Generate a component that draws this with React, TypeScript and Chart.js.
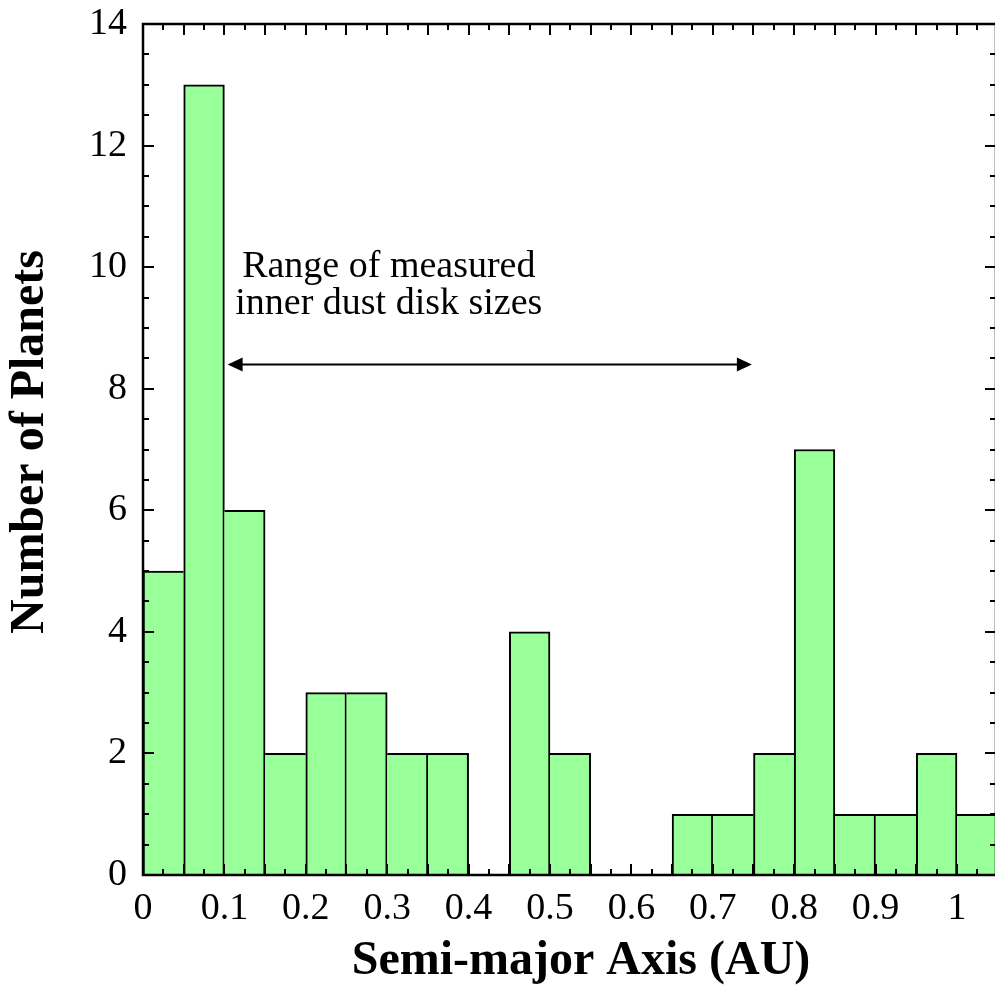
import React, { useEffect, useRef } from "react";
import { Chart, registerables } from "chart.js";

Chart.register(...registerables);

// ---- data ----
const binCenters = [
  0.025, 0.075, 0.125, 0.175, 0.225, 0.275, 0.325, 0.375, 0.425, 0.475, 0.525,
  0.575, 0.625, 0.675, 0.725, 0.775, 0.825, 0.875, 0.925, 0.975, 1.025,
];
const planetCounts = [5, 13, 6, 2, 3, 3, 2, 2, 0, 4, 2, 0, 0, 1, 1, 2, 7, 1, 1, 2, 1];
const xTickValues = [0, 0.1, 0.2, 0.3, 0.4, 0.5, 0.6, 0.7, 0.8, 0.9, 1];
const xTickLabels = ["0", "0.1", "0.2", "0.3", "0.4", "0.5", "0.6", "0.7", "0.8", "0.9", "1"];
const yTickValues = [0, 2, 4, 6, 8, 10, 12, 14];
const xTitle = "Semi-major Axis (AU)";
const yTitle = "Number of Planets";
const noteLines = ["Range of measured", "inner dust disk sizes"];
const noteX = 0.302;
const noteYs = [10.0, 9.4];
const arrowFrom = 0.104;
const arrowTo = 0.748;
const arrowY = 8.4;

const X_MIN = 0;
const X_MAX = 1.0467;
const Y_MIN = 0;
const Y_MAX = 14;
const X_MAJOR_STEP = 0.05;
const X_MINOR_STEP = 0.025;
const Y_MAJOR_STEP = 2;
const Y_MINOR_STEP = 0.5;

const SERIF = '"Liberation Serif", "Times New Roman", Times, serif';

function stepValues(min: number, max: number, step: number) {
  const out: number[] = [];
  const n = Math.floor((max - min) / step + 1e-6);
  for (let i = 0; i <= n; i++) out.push(min + i * step);
  return out;
}

const framePlugin = {
  id: "framePlugin",
  afterDatasetsDraw(chart: any) {
    const { ctx, chartArea, scales } = chart;
    const xs = scales.x;
    const ys = scales.y;
    const L = chartArea.left;
    const R = chartArea.right + 1;
    const T = chartArea.top;
    const B = chartArea.bottom;
    ctx.save();
    ctx.strokeStyle = "#000";
    ctx.fillStyle = "#000";
    ctx.lineCap = "butt";

    // ticks
    ctx.lineWidth = 2;
    const yMajor = stepValues(Y_MIN, Y_MAX, Y_MAJOR_STEP);
    stepValues(Y_MIN, Y_MAX, Y_MINOR_STEP).forEach((v) => {
      const isMajor = yMajor.some((m) => Math.abs(m - v) < 1e-6);
      const len = isMajor ? 11 : 6;
      const y = Math.round(ys.getPixelForValue(v));
      ctx.beginPath();
      ctx.moveTo(L, y);
      ctx.lineTo(L + len, y);
      ctx.moveTo(R, y);
      ctx.lineTo(R - len, y);
      ctx.stroke();
    });
    const xMajor = stepValues(X_MIN, X_MAX, X_MAJOR_STEP);
    stepValues(X_MIN, X_MAX, X_MINOR_STEP).forEach((v) => {
      const isMajor = xMajor.some((m) => Math.abs(m - v) < 1e-6);
      const len = isMajor ? 11 : 6;
      const x = Math.round(xs.getPixelForValue(v));
      ctx.beginPath();
      ctx.moveTo(x, B);
      ctx.lineTo(x, B - len);
      ctx.moveTo(x, T);
      ctx.lineTo(x, T + len);
      ctx.stroke();
    });

    // frame
    ctx.lineWidth = 2.5;
    ctx.beginPath();
    ctx.moveTo(L, T);
    ctx.lineTo(R, T);
    ctx.moveTo(L, T - 1.25);
    ctx.lineTo(L, B + 1.25);
    ctx.moveTo(L, B);
    ctx.lineTo(R, B);
    ctx.moveTo(R, T);
    ctx.lineTo(R, B);
    ctx.stroke();

    // annotation text
    ctx.font = `38px ${SERIF}`;
    ctx.textAlign = "center";
    ctx.textBaseline = "middle";
    noteLines.forEach((line, i) => {
      ctx.fillText(line, xs.getPixelForValue(noteX), ys.getPixelForValue(noteYs[i]));
    });

    // double arrow
    const ax1 = xs.getPixelForValue(arrowFrom);
    const ax2 = xs.getPixelForValue(arrowTo);
    const ay = ys.getPixelForValue(arrowY);
    const head = 15;
    const hw = 7;
    ctx.lineWidth = 2;
    ctx.beginPath();
    ctx.moveTo(ax1 + head - 2, ay);
    ctx.lineTo(ax2 - head + 2, ay);
    ctx.stroke();
    ctx.beginPath();
    ctx.moveTo(ax1, ay);
    ctx.lineTo(ax1 + head, ay - hw);
    ctx.lineTo(ax1 + head, ay + hw);
    ctx.closePath();
    ctx.fill();
    ctx.beginPath();
    ctx.moveTo(ax2, ay);
    ctx.lineTo(ax2 - head, ay - hw);
    ctx.lineTo(ax2 - head, ay + hw);
    ctx.closePath();
    ctx.fill();

    // axis titles
    ctx.font = `bold 48px ${SERIF}`;
    ctx.textAlign = "center";
    ctx.textBaseline = "alphabetic";
    ctx.fillText(xTitle, 581, 974);
    ctx.translate(43, 442);
    ctx.rotate(-Math.PI / 2);
    ctx.fillText(yTitle, 0, 0);
    ctx.restore();
  },
};

export default function App() {
  const canvasRef = useRef<HTMLCanvasElement | null>(null);

  useEffect(() => {
    const canvas = canvasRef.current;
    if (!canvas) return;
    const n = planetCounts.length;
    const chart = new Chart(canvas, {
      type: "bar",
      data: {
        datasets: [
          {
            data: binCenters.map((x, i) => ({ x, y: planetCounts[i] })),
            backgroundColor: "#99ff99",
            borderColor: "#000000",
            borderSkipped: false,
            borderWidth: (c: any) => {
              const i = c.dataIndex;
              const v = planetCounts[i];
              const prev = i > 0 ? planetCounts[i - 1] : 0;
              const next = i < n - 1 ? planetCounts[i + 1] : 0;
              return {
                top: 2,
                bottom: 0,
                left: prev < v ? 2 : 0,
                right: next <= v ? 2 : 0,
              };
            },
            barPercentage: 1,
            categoryPercentage: 1,
          } as any,
        ],
      },
      options: {
        responsive: false,
        animation: false,
        maintainAspectRatio: false,
        layout: { padding: { top: 24, right: 0, left: 0, bottom: 0 } },
        plugins: {
          legend: { display: false },
          tooltip: { enabled: false },
          title: { display: false },
        },
        scales: {
          x: {
            type: "linear",
            min: X_MIN,
            max: X_MAX,
            offset: false,
            grid: { display: false, drawTicks: false },
            border: { display: false },
            afterBuildTicks: (scale: any) => {
              scale.ticks = xTickValues.map((v) => ({ value: v }));
            },
            afterFit: (scale: any) => {
              scale.height = 110;
              scale.paddingLeft = 0;
              scale.paddingRight = 0;
            },
            ticks: {
              color: "#000",
              padding: 11,
              maxRotation: 0,
              autoSkip: false,
              font: { family: SERIF, size: 38 },
              callback: (v: any) => {
                const idx = xTickValues.findIndex((t) => Math.abs(t - Number(v)) < 1e-6);
                return idx >= 0 ? xTickLabels[idx] : "";
              },
            },
          },
          y: {
            type: "linear",
            min: Y_MIN,
            max: Y_MAX,
            grid: { display: false, drawTicks: false },
            border: { display: false },
            afterBuildTicks: (scale: any) => {
              scale.ticks = yTickValues.map((v) => ({ value: v }));
            },
            afterFit: (scale: any) => {
              scale.width = 143;
              scale.paddingTop = 0;
              scale.paddingBottom = 0;
            },
            ticks: {
              color: "#000",
              padding: 16,
              font: { family: SERIF, size: 38 },
              callback: (v: any) => String(v),
            },
          },
        },
      } as any,
      plugins: [framePlugin],
    });
    return () => chart.destroy();
  }, []);

  return (
    <div style={{ position: "absolute", left: 0, top: 0, width: 995, height: 985, background: "#fff" }}>
      <canvas ref={canvasRef} width={995} height={985} style={{ display: "block" }} />
    </div>
  );
}
